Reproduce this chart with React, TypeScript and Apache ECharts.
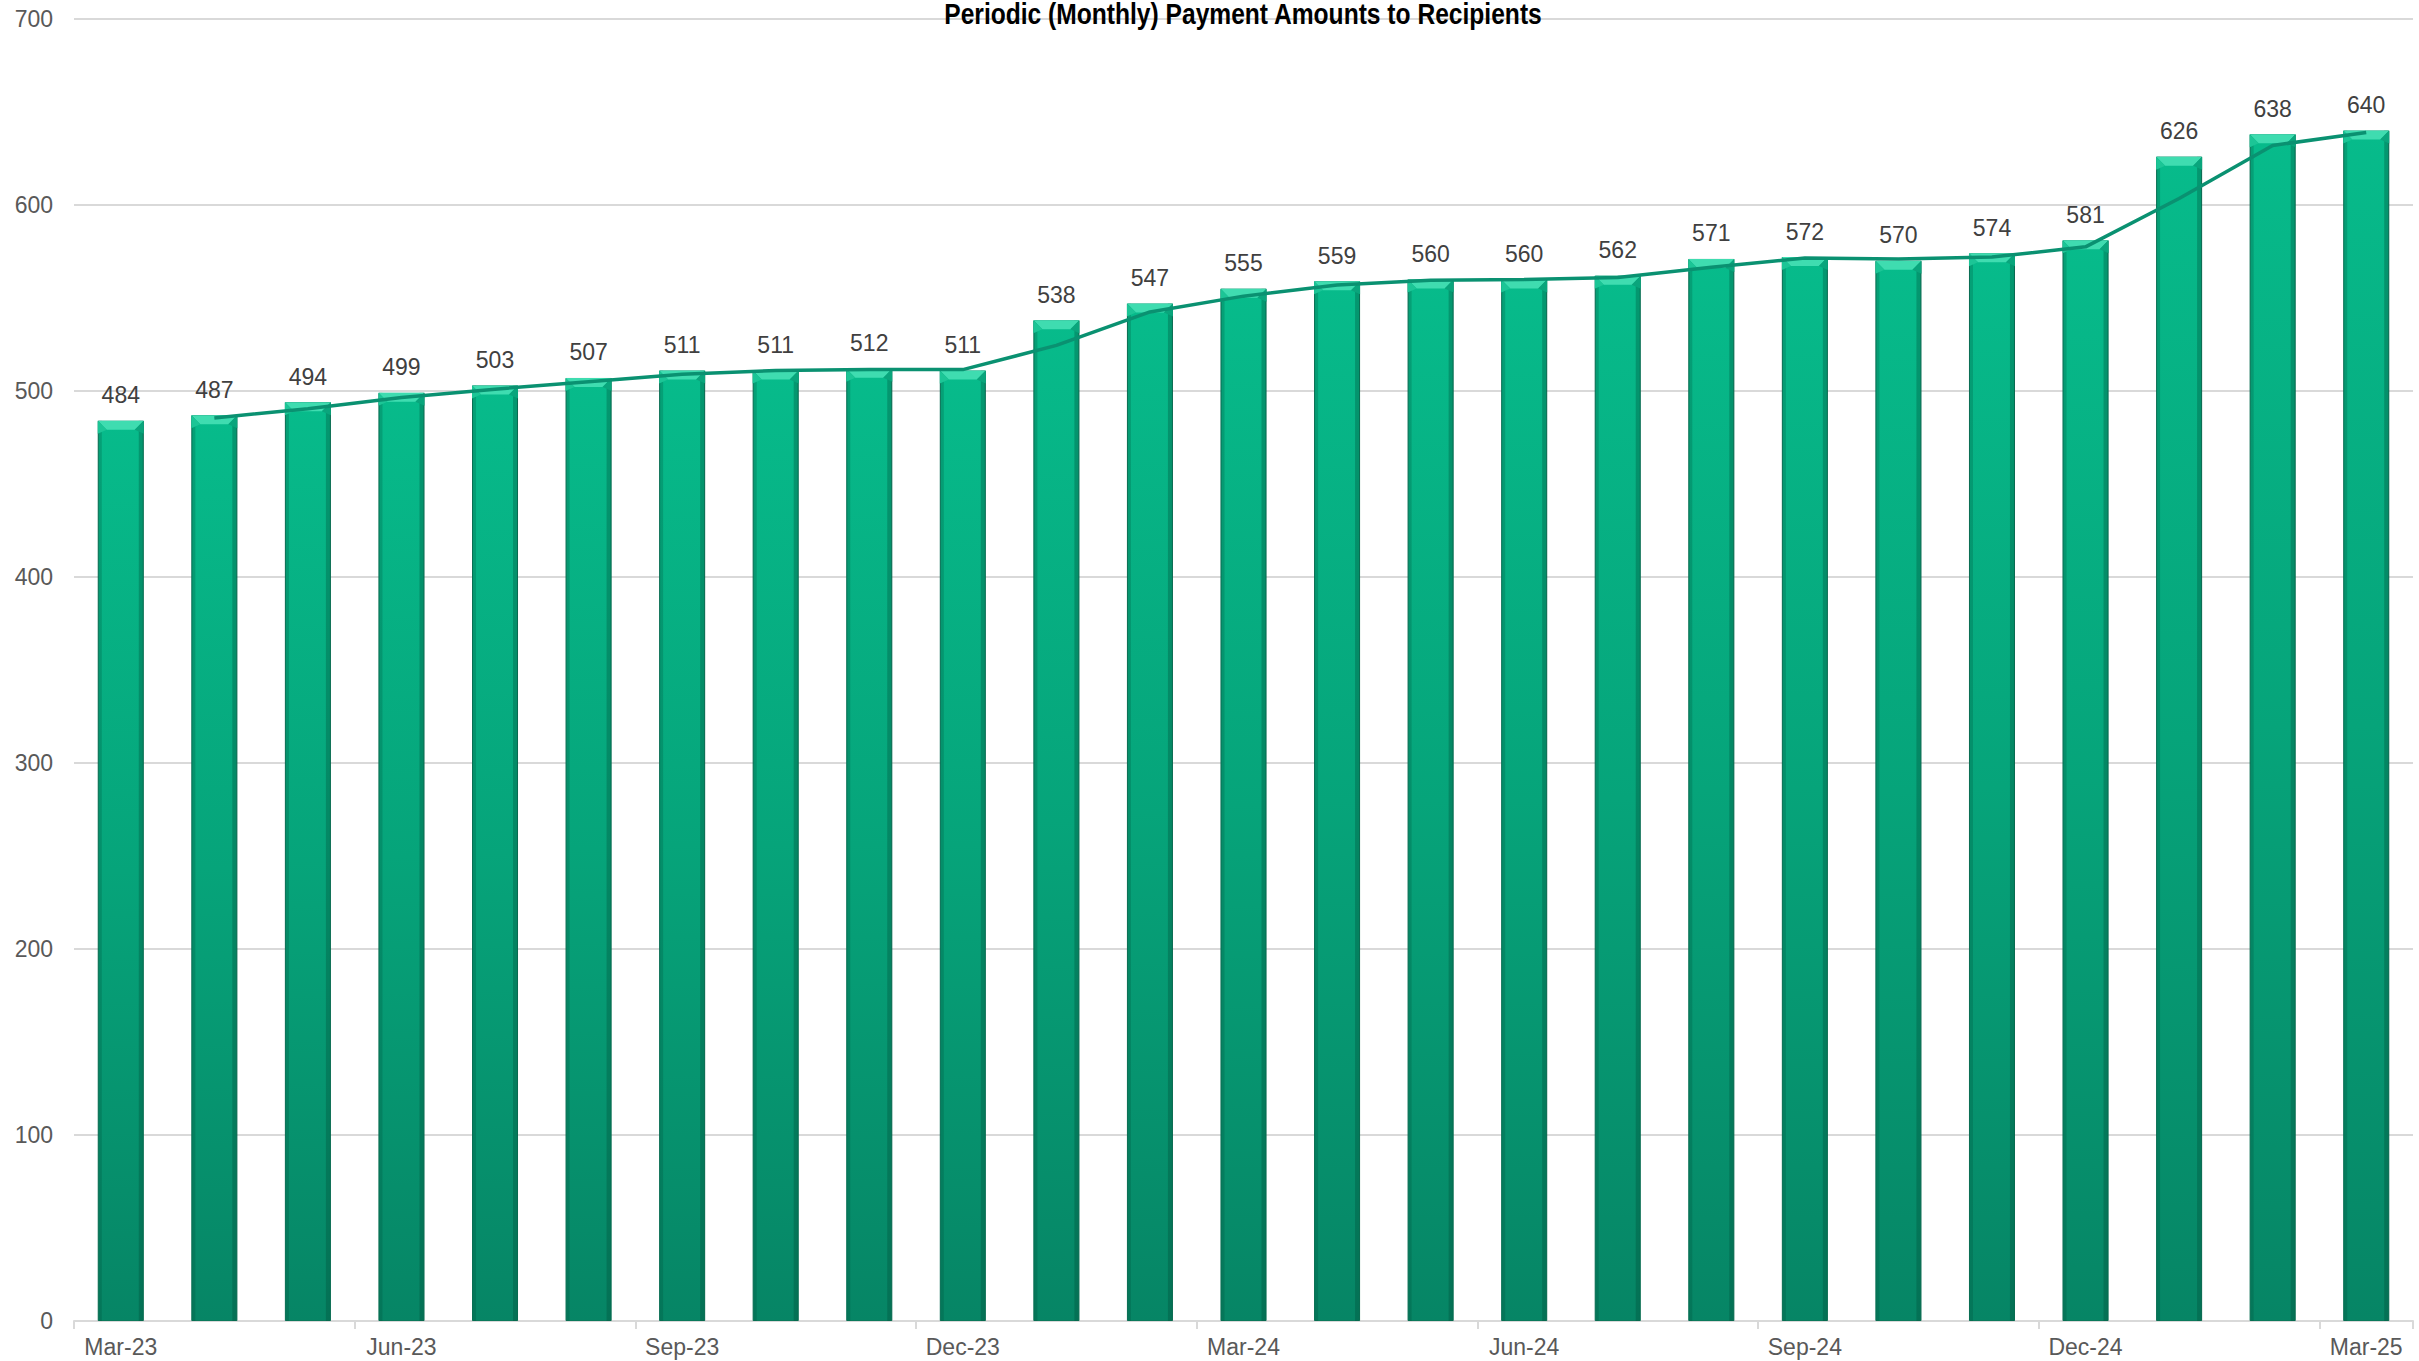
import React, { useEffect, useRef } from "react";
import * as echarts from "echarts";

const months = [
  "Mar-23", "Apr-23", "May-23", "Jun-23", "Jul-23", "Aug-23", "Sep-23", "Oct-23", "Nov-23",
  "Dec-23", "Jan-24", "Feb-24", "Mar-24", "Apr-24", "May-24", "Jun-24", "Jul-24", "Aug-24",
  "Sep-24", "Oct-24", "Nov-24", "Dec-24", "Jan-25", "Feb-25", "Mar-25",
];
const payments = [
  484, 487, 494, 499, 503, 507, 511, 511, 512, 511, 538, 547, 555, 559, 560, 560, 562, 571,
  572, 570, 574, 581, 626, 638, 640,
];
// two-period moving average trend line
const trend = [
  null, 485.5, 490.5, 496.5, 501, 505, 509, 511, 511.5, 511.5, 524.5, 542.5, 551, 557, 559.5,
  560, 561, 566.5, 571.5, 571, 572, 577.5, 603.5, 632, 639,
];
const yTicks = [0, 100, 200, 300, 400, 500, 600, 700];
const titleText = "Periodic (Monthly) Payment Amounts to Recipients";

const BAR_W = 46;
const FONT = "'Liberation Sans', Arial, sans-serif";

export default function App() {
  const ref = useRef<HTMLDivElement>(null);
  useEffect(() => {
    if (!ref.current) return;
    const chart = echarts.init(ref.current, undefined, { renderer: "svg" });
    chart.setOption({
      animation: false,
      backgroundColor: "#ffffff",
      graphic: [
        {
          type: "text",
          x: 1243,
          y: 14,
          scaleX: 0.82,
          style: {
            text: titleText,
            x: 0,
            y: 0,
            align: "center",
            verticalAlign: "middle",
            fontFamily: FONT,
            fontWeight: "bold",
            fontSize: 30,
            fill: "#000000",
          },
          z: 100,
        },
      ],
      grid: { left: 74, right: 6, top: 19, bottom: 40, containLabel: false },
      xAxis: {
        type: "category",
        data: months,
        boundaryGap: true,
        axisLine: { show: true, lineStyle: { color: "#d9d9d9", width: 2 } },
        axisTick: { show: true, interval: 2, length: 8, lineStyle: { color: "#d9d9d9", width: 2 } },
        axisLabel: {
          interval: 2,
          color: "#595959",
          fontFamily: FONT,
          fontSize: 23,
          margin: 14,
        },
      },
      yAxis: {
        type: "value",
        min: yTicks[0],
        max: yTicks[yTicks.length - 1],
        interval: 100,
        axisLine: { show: false },
        axisTick: { show: false },
        axisLabel: { color: "#595959", fontFamily: FONT, fontSize: 23, margin: 21 },
        splitLine: { lineStyle: { color: "#d9d9d9", width: 2 } },
      },
      series: [
        {
          type: "bar",
          data: payments,
          barWidth: BAR_W,
          itemStyle: {
            color: new echarts.graphic.LinearGradient(0, 0, 0, 1, [
              { offset: 0, color: "#07bb8b" },
              { offset: 0.5, color: "#06a47a" },
              { offset: 1, color: "#068565" },
            ]),
            borderColor: "#0b7a5c",
            borderWidth: 1,
          },
          label: {
            show: true,
            position: "top",
            distance: 14,
            color: "#404040",
            fontFamily: FONT,
            fontSize: 23,
          },
          z: 2,
        },
        {
          type: "custom",
          data: payments.map((v, i) => [i, v]),
          silent: true,
          z: 3,
          renderItem: (params: any, api: any) => {
            const top = api.coord([api.value(0), api.value(1)]);
            const base = api.coord([api.value(0), 0]);
            const cx = top[0];
            const y = top[1];
            const h = base[1] - y;
            const half = BAR_W / 2;
            const bev = 9;
            return {
              type: "group",
              children: [
                {
                  type: "rect",
                  shape: { x: cx - half, y: y, width: 4, height: h },
                  style: { fill: "rgba(0,70,50,0.22)" },
                },
                {
                  type: "rect",
                  shape: { x: cx + half - 5, y: y, width: 5, height: h },
                  style: { fill: "rgba(0,70,50,0.30)" },
                },
                {
                  type: "polygon",
                  shape: {
                    points: [
                      [cx - half, y],
                      [cx + half, y],
                      [cx + half - bev, y + bev],
                      [cx - half + bev, y + bev],
                    ],
                  },
                  style: { fill: "#3fdcb0" },
                },
                {
                  type: "polygon",
                  shape: {
                    points: [
                      [cx - half, y],
                      [cx - half + bev, y + bev],
                      [cx - half, y + bev + 4],
                    ],
                  },
                  style: { fill: "#1cc596" },
                },
                {
                  type: "polygon",
                  shape: {
                    points: [
                      [cx + half, y],
                      [cx + half - bev, y + bev],
                      [cx + half, y + bev + 4],
                    ],
                  },
                  style: { fill: "#0aa57c" },
                },
              ],
            };
          },
        },
        {
          type: "line",
          data: trend,
          showSymbol: false,
          symbol: "none",
          connectNulls: false,
          lineStyle: { color: "#0a9171", width: 3.5 },
          z: 5,
        },
      ],
    });
    return () => chart.dispose();
  }, []);
  return (
    <div
      ref={ref}
      style={{ position: "fixed", left: 0, top: 0, width: 2419, height: 1361 }}
    />
  );
}
